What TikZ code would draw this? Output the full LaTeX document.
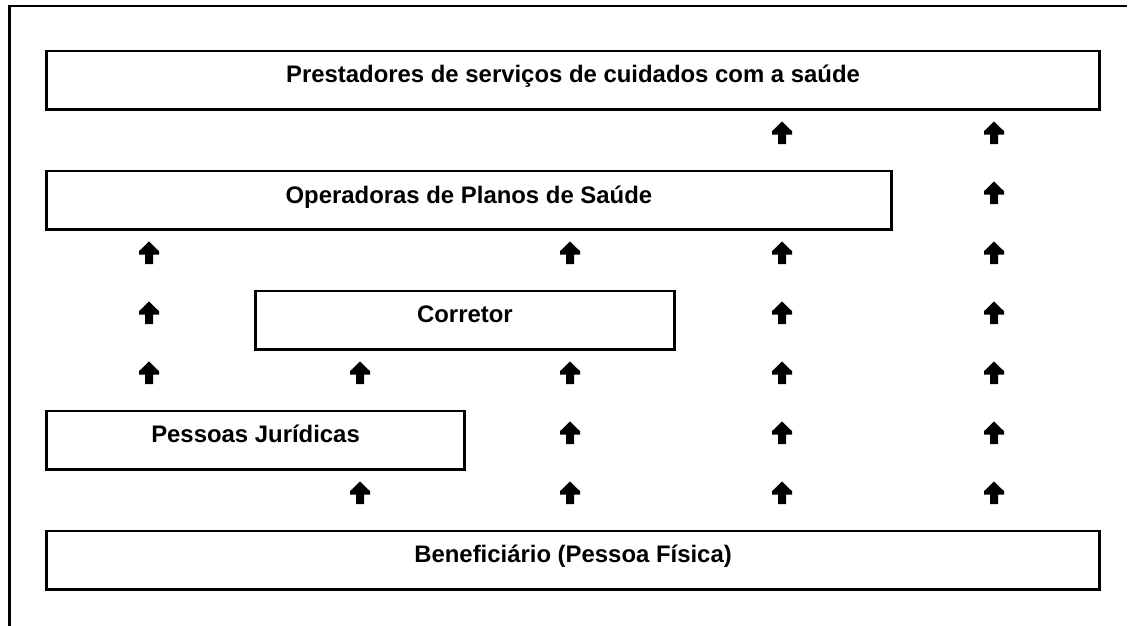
\documentclass[tikz,border=0pt]{standalone}
\usepackage{fontspec}
\setmainfont{Liberation Sans}
\begin{document}
\begin{tikzpicture}[x=1pt,y=-1pt,
  box/.style={draw, line width=2.5pt, rectangle, anchor=north west, inner xsep=0pt, inner ysep=0pt,
    text height=32pt, text depth=26.5pt, align=center,
    font=\fontsize{23.9}{28}\selectfont\bfseries},
  frame/.style={line width=2.4pt},
  uparr/.pic={\fill (0,-11.5) -- (10,-1.8) -- (10,1.5) -- (4,1.5) -- (4,11) -- (-4,11) -- (-4,1.5) -- (-10,1.5) -- (-10,-1.8) -- cycle;}
]
\useasboundingbox (0,0) rectangle (1128,626);
\draw[frame] (9.3,626) -- (9.3,6) -- (1127,6);

\node[box, minimum width=1053pt] (prest) at (45.3,49.7) {Prestadores de serviços de cuidados com a saúde};
\node[box, minimum width=844.7pt] (oper) at (45.3,169.8) {Operadoras de Planos de Saúde};
\node[box, minimum width=419.3pt] (corr) at (254,289.5) {Corretor};
\node[box, minimum width=418pt] (pess) at (45.3,409.6) {Pessoas Jurídicas};
\node[box, minimum width=1053pt] (benef) at (45.3,529.7) {Beneficiário (Pessoa Física)};

\foreach \p in {(782,133),(994,133),
  (994,193),
  (149,253),(570,253),(782,253),(994,253),
  (149,313),(782,313),(994,313),
  (149,373),(360,373),(570,373),(782,373),(994,373),
  (570,433),(782,433),(994,433),
  (360,493),(570,493),(782,493),(994,493)}
  \pic at \p {uparr};
\end{tikzpicture}
\end{document}
